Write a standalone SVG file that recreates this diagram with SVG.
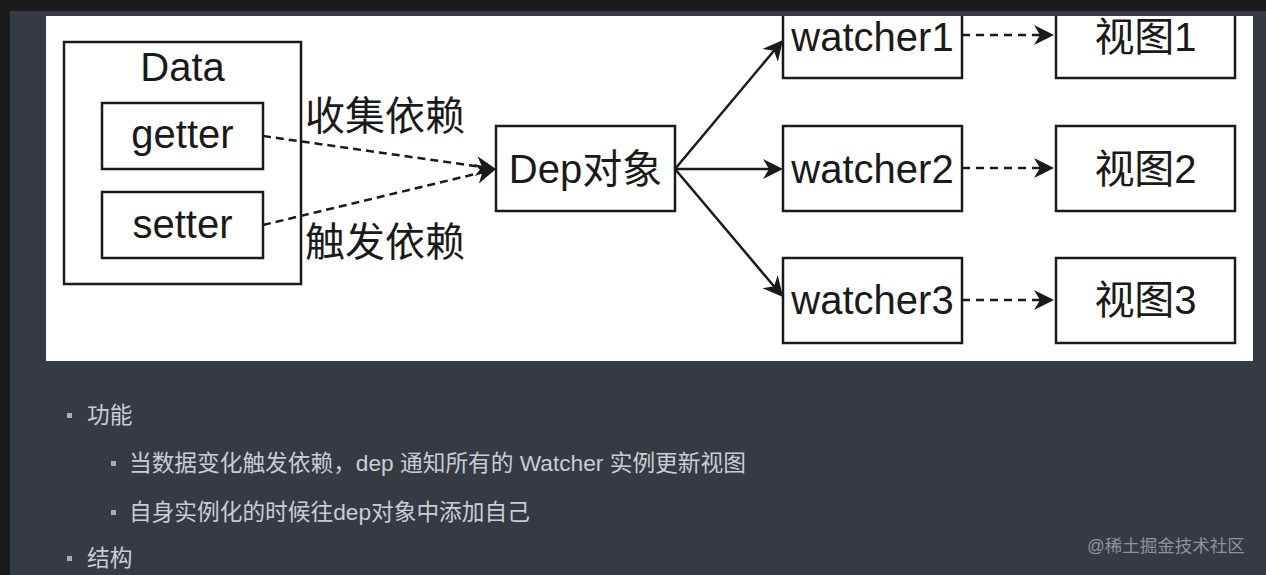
<svg xmlns="http://www.w3.org/2000/svg" width="1266" height="575" viewBox="0 0 1266 575">
<style>
.box{fill:#fff;stroke:#1a1a1a;stroke-width:2.5}
.lbl{font-family:"Liberation Sans","Noto Sans CJK SC",sans-serif;font-size:40px;fill:#1a1a1a;text-anchor:middle}
.edge{fill:none;stroke:#1a1a1a;stroke-width:2.5}
.dash{stroke-dasharray:8 6}
.note{font-family:"Liberation Sans","Noto Sans CJK SC",sans-serif;font-size:22.7px;fill:#c9cdd3}
.bul{fill:#a9adb3}
</style>
<defs>
<marker id="arr" markerUnits="userSpaceOnUse" viewBox="-7 -11 22 22" markerWidth="22" markerHeight="22" refX="0" refY="0" orient="auto" overflow="visible">
<path d="M14,0 L-6,-10 L0,0 L-6,10 Z" fill="#1a1a1a"/>
</marker>
<clipPath id="panel"><rect x="46" y="16" width="1207" height="345"/></clipPath>
</defs>
<rect x="0" y="0" width="1266" height="575" fill="#363b43"/>
<rect x="0" y="0" width="1266" height="11" fill="#1b1b1b"/>
<rect x="0" y="0" width="10" height="575" fill="#1b1b1b"/>
<rect x="46" y="16" width="1207" height="345" fill="#ffffff"/>
<g clip-path="url(#panel)">
<g id="data"><rect class="box" x="64" y="42" width="237" height="242"/><text class="lbl" x="182.5" y="81">Data</text></g>
<g id="getter"><rect class="box" x="102" y="103" width="161" height="66"/><text class="lbl" x="182.5" y="148">getter</text></g>
<g id="setter"><rect class="box" x="102" y="192" width="161" height="66"/><text class="lbl" x="182.5" y="238">setter</text></g>
<g id="dep"><rect class="box" x="496" y="126" width="179" height="85"/><text class="lbl" x="585.5" y="183">Dep对象</text></g>
<g id="watcher1"><rect class="box" x="783" y="-7" width="179" height="85"/><text class="lbl" x="872.5" y="51">watcher1</text></g>
<g id="watcher2"><rect class="box" x="783" y="126" width="179" height="85"/><text class="lbl" x="872.5" y="183">watcher2</text></g>
<g id="watcher3"><rect class="box" x="783" y="258" width="179" height="85"/><text class="lbl" x="872.5" y="314">watcher3</text></g>
<g id="view1"><rect class="box" x="1056" y="-7" width="179" height="85"/><text class="lbl" x="1145.5" y="51">视图1</text></g>
<g id="view2"><rect class="box" x="1056" y="126" width="179" height="85"/><text class="lbl" x="1145.5" y="183">视图2</text></g>
<g id="view3"><rect class="box" x="1056" y="258" width="179" height="85"/><text class="lbl" x="1145.5" y="314">视图3</text></g>
<g id="connectors">
<path class="edge dash" d="M263,136 L482.1,167" marker-end="url(#arr)" style="stroke-dasharray:8 5"/>
<path class="edge dash" d="M263,225 L482.4,172.3" marker-end="url(#arr)" style="stroke-dasharray:8 5"/>
<path class="edge" d="M675,169 L774,50.7" marker-end="url(#arr)"/>
<path class="edge" d="M675,169 L769,169" marker-end="url(#arr)"/>
<path class="edge" d="M675,169 L774,286.3" marker-end="url(#arr)"/>
<path class="edge dash" d="M962,35 L1040,35" marker-end="url(#arr)"/>
<path class="edge dash" d="M962,168 L1040,168" marker-end="url(#arr)"/>
<path class="edge dash" d="M962,300 L1040,300" marker-end="url(#arr)"/>
<text class="lbl" x="305" y="130" style="text-anchor:start">收集依赖</text>
<text class="lbl" x="305" y="256" style="text-anchor:start">触发依赖</text>
</g>
</g>
<rect class="bul" x="67" y="413" width="5" height="5"/>
<text class="note" x="87" y="423">功能</text>
<rect class="bul" x="111" y="461" width="5" height="5"/>
<text class="note" x="129" y="471">当数据变化触发依赖，dep 通知所有的 Watcher 实例更新视图</text>
<rect class="bul" x="111" y="510" width="5" height="5"/>
<text class="note" x="129" y="520">自身实例化的时候往dep对象中添加自己</text>
<rect class="bul" x="67" y="556" width="5" height="5"/>
<text class="note" x="87" y="566">结构</text>
<text x="1087" y="552" style="font-family:'Liberation Sans','Noto Sans CJK SC',sans-serif;font-size:17.5px;fill:#8e939a">@稀土掘金技术社区</text>
</svg>
